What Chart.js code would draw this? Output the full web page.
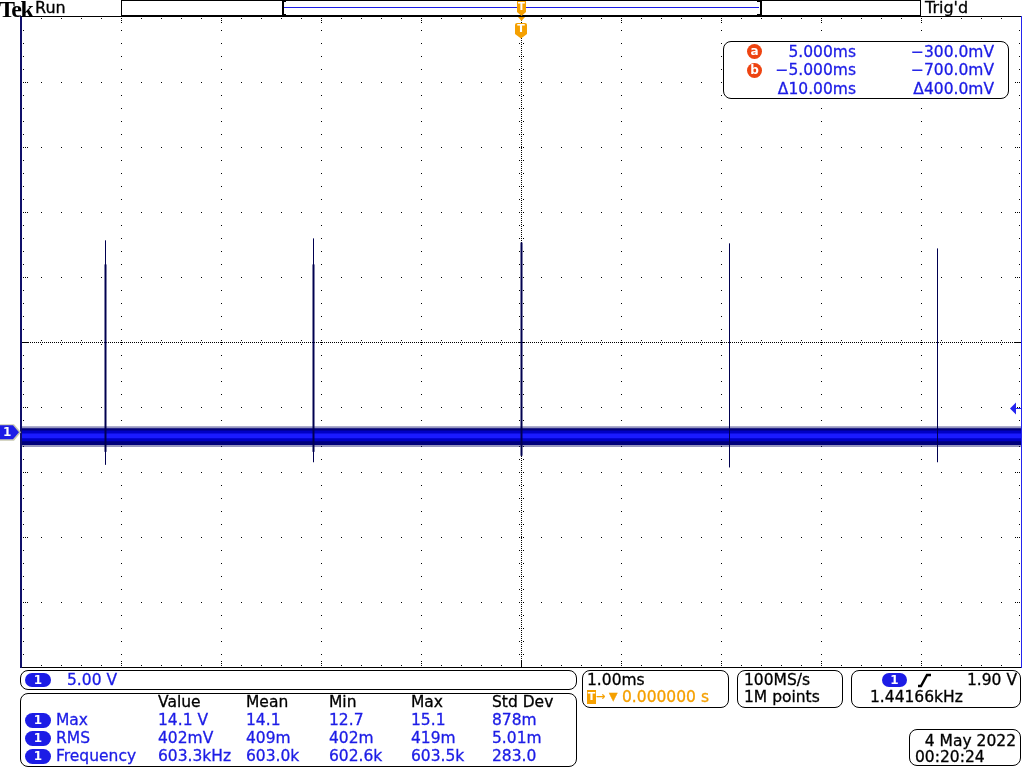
<!DOCTYPE html>
<html>
<head>
<meta charset="utf-8">
<title>Tek scope capture</title>
<script src="https://cdn.jsdelivr.net/npm/chart.js@4.4.1/dist/chart.umd.min.js"></script>
<style>
html,body{margin:0;padding:0;background:#fff;}
#wrap{position:relative;width:1024px;height:768px;overflow:hidden;font-family:"DejaVu Sans",sans-serif;}
#c{position:absolute;left:0;top:0;}
.t{position:absolute;white-space:nowrap;-webkit-text-stroke:0.3px currentColor;}
.box{position:absolute;border:1px solid #000;border-radius:8px;background:#fff;box-sizing:border-box;}
.pill{position:absolute;background:#1c1ce6;color:#fff;text-align:center;font-weight:bold;font-size:12px;}
.badge{position:absolute;width:15px;height:15px;border-radius:50%;background:#ee4411;color:#fff;font-weight:bold;font-size:12px;line-height:14px;text-align:center;}
</style>
</head>
<body>
<div id="wrap">
<canvas id="c" width="1024" height="768"></canvas>
</div>
<script>
// ---------------- DATA (read from the screen capture) ----------------
// horizontal: 1.00 ms/div, trigger at 0 s (centre); vertical: CH1 5.00 V/div
const timeLimitsMs = [-5, 5];
const voltLimits = [-18.05, 31.95];          // ground marker sits 1.37 div below centre

// baseline noise band of channel 1 (volts)
const bandTimeMs   = [-5, 5];
const fringeHi     = [0.46, 0.46];
const bandOuterHi  = [0.31, 0.31];
const bandOuterLo  = [-0.98, -0.98];
const fringeLo     = [-1.12, -1.12];
const bandMidHi    = [0.15, 0.15];
const bandMidLo    = [-0.69, -0.69];
const bandCoreHi   = [-0.08, -0.08];
const bandCoreLo   = [-0.46, -0.46];

// switching spikes
const spikeTimesMs   = [-4.155, -2.075, 0.005, 2.085, 4.165];
const spikePeakV     = [14.77, 14.92, 14.6, 14.54, 14.15];
const spikeFloorV    = [-2.5, -2.3, -1.8, -2.7, -2.3];
const spikeBodyTopV  = [12.92, 12.92, 14.6, null, null];
const spikeBodyLowV  = [-1.5, -1.5, -1.8, null, null];

// trigger level (volts)
const triggerLevelV = 1.90;

// readouts
const cursorTimes  = ['5.000ms', '\u22125.000ms', '\u039410.00ms'];
const cursorVolts  = ['\u2212300.0mV', '\u2212700.0mV', '\u0394400.0mV'];
const cursorNames  = ['a', 'b'];
const measHeaders  = ['Value', 'Mean', 'Min', 'Max', 'Std Dev'];
const measLabels   = ['Max', 'RMS', 'Frequency'];
const measValues   = [
  ['14.1 V', '14.1', '12.7', '15.1', '878m'],
  ['402mV', '409m', '402m', '419m', '5.01m'],
  ['603.3kHz', '603.0k', '602.6k', '603.5k', '283.0']
];

// ---------------- styles ----------------
const BLUE = '#1c1ce6', ORANGE = '#f5a000', NAVY = '#000050';
const spikeBodyWidthPx = [2, 2, 2, 0, 0];

// ---------------- helpers ----------------
function pts(times, vals) { return times.map((t, i) => ({x: t, y: vals[i]})); }
function seg(t, lo, hi) { return [{x: t, y: lo}, {x: t, y: hi}]; }
function band(hi, lo, color, order) {
  return [
    {data: pts(bandTimeMs, hi), borderColor: 'rgba(0,0,0,0)', borderWidth: 0, backgroundColor: color, fill: '+1', order, pointRadius: 0},
    {data: pts(bandTimeMs, lo), borderColor: 'rgba(0,0,0,0)', borderWidth: 0, fill: false, order, pointRadius: 0}
  ];
}

const datasets = [];
spikeTimesMs.forEach((t, i) => {
  datasets.push({data: seg(t, spikeFloorV[i], spikePeakV[i]), borderColor: NAVY, borderWidth: 1, fill: false, order: 0, pointRadius: 0});
  if (spikeBodyTopV[i] != null && spikeBodyWidthPx[i] > 0) {
    datasets.push({data: seg(t, spikeBodyLowV[i], spikeBodyTopV[i]), borderColor: NAVY, borderWidth: spikeBodyWidthPx[i], fill: false, order: 0, pointRadius: 0});
  }
});
datasets.push(...band(bandCoreHi, bandCoreLo, '#1a1aff', 2));
datasets.push(...band(bandMidHi, bandMidLo, '#0000c4', 3));
datasets.push(...band(bandOuterHi, bandOuterLo, '#00007a', 4));
datasets.push(...band(fringeHi, fringeLo, 'rgba(20,20,110,0.45)', 5));

// graticule (Tek style dotted grid)
const graticule = {
  id: 'graticule',
  beforeDatasetsDraw(chart) {
    const {ctx, chartArea: a} = chart;
    const L = Math.round(a.left), T = Math.round(a.top), R = Math.round(a.right), B = Math.round(a.bottom);
    const dx = (R - L) / 10, dy = (B - T) / 10, mx = dx / 5, my = dy / 5;
    ctx.save();
    ctx.fillStyle = '#000';
    const cx = Math.round(L + 5 * dx), cy = Math.round(T + 5 * dy);
    for (let i = 1; i < 10; i++) {
      if (i === 5) continue;
      const x = Math.round(L + i * dx);
      for (let k = 1; k < 50; k++) ctx.fillRect(x, Math.round(T + k * my), 1, 1);
      const y = Math.round(T + i * dy);
      for (let k = 1; k < 50; k++) ctx.fillRect(Math.round(L + k * mx), y, 1, 1);
    }
    for (let x = L + 1; x < R; x += 2) ctx.fillRect(x, cy, 1, 1);
    for (let y = T + 1; y < B; y += 2) ctx.fillRect(cx, y, 1, 1);
    for (let k = 1; k < 50; k++) {
      const x = Math.round(L + k * mx);
      ctx.fillRect(x, cy - 2, 1, 1); ctx.fillRect(x, cy + 2, 1, 1);
      const major = k % 5 === 0;
      ctx.fillRect(x, T + 1, 1, 1); ctx.fillRect(x, B - 2, 1, 1);
      if (major) { ctx.fillRect(x, T + 3, 1, 1); ctx.fillRect(x, T + 5, 1, 1); ctx.fillRect(x, B - 4, 1, 1); ctx.fillRect(x, B - 6, 1, 1); }
      const y = Math.round(T + k * my);
      ctx.fillRect(cx - 2, y, 1, 1); ctx.fillRect(cx + 2, y, 1, 1);
      ctx.fillRect(L + 2, y, 1, 1); ctx.fillRect(R - 2, y, 1, 1);
      if (major) { ctx.fillRect(L + 4, y, 1, 1); ctx.fillRect(L + 6, y, 1, 1); ctx.fillRect(R - 4, y, 1, 1); ctx.fillRect(R - 6, y, 1, 1); }
    }
    ctx.restore();
  }
};

// frame, record bar, markers
const frame = {
  id: 'frame',
  afterDraw(chart) {
    const {ctx, chartArea: a, scales} = chart;
    const L = Math.round(a.left), T = Math.round(a.top), R = Math.round(a.right), B = Math.round(a.bottom);
    ctx.save();
    ctx.fillStyle = '#000';
    ctx.fillRect(L - 1, T - 1, R - L + 2, 1);
    ctx.fillRect(L - 1, B, R - L + 2, 1);
    ctx.fillStyle = '#10106a';
    ctx.fillRect(L - 1, T - 1, 2, B - T + 2);
    ctx.fillStyle = '#2424f0';
    ctx.fillRect(R, T - 1, 1, B - T + 2);

    // record view bar
    ctx.strokeStyle = '#000'; ctx.lineWidth = 1;
    ctx.strokeRect(121.5, 0.5, 799, 15);
    ctx.fillStyle = '#000';
    ctx.fillRect(282, 1, 2, 14); ctx.fillRect(282, 1, 4, 1); ctx.fillRect(282, 14, 4, 1);
    ctx.fillRect(760, 1, 2, 14); ctx.fillRect(757, 1, 4, 1); ctx.fillRect(757, 14, 4, 1);
    ctx.fillStyle = BLUE;
    ctx.fillRect(284, 7, 475, 1);

    // trigger position markers
    ctx.fillStyle = ORANGE;
    ctx.fillRect(517, 1, 9, 11);
    ctx.beginPath(); ctx.moveTo(517, 12); ctx.lineTo(526, 12); ctx.lineTo(521.5, 16); ctx.closePath(); ctx.fill();
    ctx.beginPath(); ctx.moveTo(518, 17); ctx.lineTo(525, 17); ctx.lineTo(521.5, 21); ctx.closePath(); ctx.fill();
    ctx.beginPath();
    ctx.moveTo(517, 23); ctx.lineTo(525, 23); ctx.quadraticCurveTo(527, 23, 527, 25);
    ctx.lineTo(527, 34); ctx.lineTo(521, 38.5); ctx.lineTo(515, 34); ctx.lineTo(515, 25);
    ctx.quadraticCurveTo(515, 23, 517, 23); ctx.closePath(); ctx.fill();

    // channel 1 ground marker
    const gy = scales.y.getPixelForValue(0);
    ctx.fillStyle = '#c8c8b0';
    ctx.beginPath(); ctx.moveTo(0, gy - 8); ctx.lineTo(14, gy - 8); ctx.lineTo(21, gy); ctx.lineTo(14, gy + 8.5); ctx.lineTo(0, gy + 8.5); ctx.closePath(); ctx.fill();
    ctx.fillStyle = BLUE;
    ctx.beginPath(); ctx.moveTo(0, gy - 7); ctx.lineTo(13, gy - 7); ctx.lineTo(19, gy); ctx.lineTo(13, gy + 7); ctx.lineTo(0, gy + 7); ctx.closePath(); ctx.fill();

    // trigger level marker
    const ty = Math.round(scales.y.getPixelForValue(triggerLevelV)) + 0.5;
    ctx.fillStyle = '#2424f0';
    ctx.beginPath(); ctx.moveTo(1010, ty); ctx.lineTo(1016, ty - 6); ctx.lineTo(1016, ty + 6); ctx.closePath(); ctx.fill();
    ctx.fillRect(1016, ty - 0.5, 5, 1);

    ctx.restore();
  }
};

new Chart(document.getElementById('c'), {
  type: 'line',
  data: {datasets},
  options: {
    responsive: false, animation: false, devicePixelRatio: 1, events: [],
    layout: {padding: {left: 21, top: 17, right: 3, bottom: 101}},
    plugins: {legend: {display: false}, tooltip: {enabled: false}},
    elements: {point: {radius: 0}, line: {tension: 0, borderCapStyle: 'butt'}},
    scales: {
      x: {type: 'linear', min: timeLimitsMs[0], max: timeLimitsMs[1], display: false},
      y: {type: 'linear', min: voltLimits[0], max: voltLimits[1], display: false}
    }
  },
  plugins: [graticule, frame]
});

// ---------------- text overlays ----------------
const wrap = document.getElementById('wrap');
function txt(s, x, yc, o = {}) {
  const d = document.createElement('div');
  d.className = 't'; d.textContent = s;
  const size = o.size || 15, lh = Math.round(size * 1.25);
  d.style.fontSize = size + 'px'; d.style.lineHeight = lh + 'px';
  d.style.top = (yc - lh / 2) + 'px';
  if (o.right !== undefined) d.style.right = (1024 - o.right) + 'px'; else d.style.left = x + 'px';
  d.style.color = o.color || '#000';
  if (o.bold) d.style.fontWeight = 'bold';
  if (o.family) d.style.fontFamily = o.family;
  if (o.ls) d.style.letterSpacing = o.ls + 'px';
  if (o.w) { d.style.width = o.w + 'px'; d.style.textAlign = 'center'; }
  if (o.noStroke) d.style.webkitTextStroke = '0';
  wrap.appendChild(d); return d;
}
function box(x, y, w, h) {
  const d = document.createElement('div'); d.className = 'box';
  Object.assign(d.style, {left: x + 'px', top: y + 'px', width: w + 'px', height: h + 'px'});
  wrap.appendChild(d); return d;
}
function pill(x, y, w, h, s) {
  const d = document.createElement('div'); d.className = 'pill'; d.textContent = s;
  Object.assign(d.style, {left: x + 'px', top: y + 'px', width: w + 'px', height: h + 'px', lineHeight: h + 'px', borderRadius: (h / 2) + 'px'});
  wrap.appendChild(d); return d;
}

// top line
txt('Tek', -1, 8.5, {size: 24, bold: true, family: '"Liberation Serif", serif', ls: -1.5, noStroke: true});
txt('Run', 35, 8, {size: 16});
txt("Trig'd", 925, 8, {size: 16});
txt('T', 517, 6.5, {size: 10, bold: true, color: '#fff', w: 9, noStroke: true});
txt('T', 515, 29, {size: 11, bold: true, color: '#fff', w: 12, noStroke: true});

// channel ground marker label
txt('1', 3, 432.5, {size: 12, bold: true, color: '#fff', noStroke: true});

// cursor readout
box(723, 41, 286, 58);
cursorTimes.forEach((s, i) => txt(s, 0, 52 + i * 18.7, {size: 15.5, color: BLUE, right: 856}));
cursorVolts.forEach((s, i) => txt(s, 0, 52 + i * 18.7, {size: 15.5, color: BLUE, right: 994}));
cursorNames.forEach((s, i) => {
  const d = document.createElement('div'); d.className = 'badge'; d.textContent = s;
  Object.assign(d.style, {left: '747px', top: (44 + i * 19) + 'px'});
  wrap.appendChild(d);
});

// bottom: channel scale
box(20, 670, 557, 20);
pill(25, 673, 26, 14, '1');
txt('5.00 V', 67, 680, {size: 15.5, color: BLUE});

// measurements
box(20, 693, 557, 74);
const measCols = [158, 246, 329, 411, 492];
measHeaders.forEach((h, i) => txt(h, measCols[i], 702, {size: 15.5}));
measLabels.forEach((lab, r) => {
  const yc = 720 + r * 18;
  pill(25, yc - 7.5, 26, 15, '1');
  txt(lab, 56, yc, {size: 15.5, color: BLUE});
  measValues[r].forEach((v, i) => txt(v, measCols[i], yc, {size: 15.5, color: BLUE}));
});

// horizontal
box(582, 670, 147, 38);
txt('1.00ms', 587, 680, {size: 15.5});
const tb = document.createElement('div');
Object.assign(tb.style, {position: 'absolute', left: '587px', top: '690px', width: '9px', height: '14px', background: ORANGE, color: '#fff', fontSize: '11px', fontWeight: 'bold', lineHeight: '14px', textAlign: 'center'});
tb.textContent = 'T'; wrap.appendChild(tb);
txt('\u2192', 596, 697, {size: 11, color: ORANGE});
txt('\u25BC', 609, 697, {size: 11, color: ORANGE});
txt('0.000000 s', 622, 697, {size: 15.5, color: ORANGE});

// acquisition
box(737, 670, 106, 38);
txt('100MS/s', 744, 680, {size: 15.5});
txt('1M points', 744, 697, {size: 15.5});

// trigger
box(851, 670, 170, 38);
pill(882, 673, 25, 14, '1');
const svgNS = 'http://www.w3.org/2000/svg';
const sv = document.createElementNS(svgNS, 'svg');
sv.setAttribute('width', '16'); sv.setAttribute('height', '16');
Object.assign(sv.style, {position: 'absolute', left: '917px', top: '672px'});
const pl = document.createElementNS(svgNS, 'polyline');
pl.setAttribute('points', '1,14 4,14 10,3 14,3');
pl.setAttribute('fill', 'none'); pl.setAttribute('stroke', '#000'); pl.setAttribute('stroke-width', '2.4');
sv.appendChild(pl); wrap.appendChild(sv);
txt('1.90 V', 0, 680, {size: 15.5, right: 1017});
txt('1.44166kHz', 870, 697, {size: 15.5});

// date
box(909, 729, 112, 37);
txt('4 May 2022', 0, 741, {size: 15.5, right: 1016});
txt('00:20:24', 915, 757, {size: 15.5});
</script>
</body>
</html>
